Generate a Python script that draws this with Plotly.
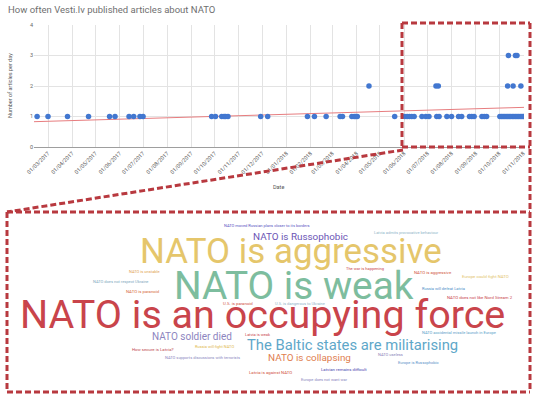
import plotly.graph_objects as go

# ---------------- data ----------------
dates_one = [
    "2017-02-15", "2017-03-01", "2017-03-26", "2017-04-22", "2017-05-19", "2017-05-26",
    "2017-06-13", "2017-06-19", "2017-06-27", "2017-07-01",
    "2017-09-27", "2017-10-02", "2017-10-10", "2017-10-13", "2017-10-15", "2017-10-18",
    "2017-11-29", "2017-12-08",
    "2018-01-28", "2018-02-06", "2018-02-21", "2018-03-11", "2018-03-14", "2018-03-26",
    "2018-03-29", "2018-03-31", "2018-04-02", "2018-05-20",
    "2018-06-02", "2018-06-05", "2018-06-08", "2018-06-11", "2018-06-14", "2018-06-24",
    "2018-06-29", "2018-07-03", "2018-07-13", "2018-07-16", "2018-07-26", "2018-08-01",
    "2018-08-10", "2018-08-14", "2018-08-24", "2018-08-27", "2018-08-30", "2018-09-09",
    "2018-09-12", "2018-09-15",
    "2018-10-02", "2018-10-04", "2018-10-06", "2018-10-08", "2018-10-10", "2018-10-12",
    "2018-10-14", "2018-10-16", "2018-10-18", "2018-10-20", "2018-10-22", "2018-10-24",
    "2018-10-26", "2018-10-28", "2018-10-30", "2018-11-01",
]
counts_one = [1] * len(dates_one)
dates_two = ["2018-04-17", "2018-07-12", "2018-07-15", "2018-10-12", "2018-10-19", "2018-10-29"]
counts_two = [2] * len(dates_two)
dates_three = ["2018-10-13", "2018-10-22", "2018-10-24"]
counts_three = [3] * len(dates_three)

trend_dates = ["2017-02-11", "2018-11-02"]
trend_values = [0.83, 1.30]

words = [
    "NATO is an occupying force", "NATO is weak", "NATO is aggressive",
    "The Baltic states are militarising", "NATO is Russophobic", "NATO soldier died",
    "NATO is collapsing",
    "NATO moved Russian plans closer to its borders", "Latvia admits provocative behaviour",
    "The war is happening", "NATO is aggressive", "Europe could fight NATO",
    "Russia will defeat Latvia", "NATO does not like Nord Stream 2",
    "NATO accidental missile launch in Europe", "NATO useless", "Europe is Russophobic",
    "Latvian remains difficult", "Europe does not want war", "Latvia is against NATO",
    "NATO supports discussions with terrorists", "How secure is Latvia?",
    "Russia will fight NATO", "Latvia is weak", "U.S. is paranoid",
    "U.S. is dangerous to Ukraine", "NATO is paranoid", "NATO does not respect Ukraine",
    "NATO is unstable",
]

# ---------------- layout of the word cloud (pixel centres, font size, colour) ----------------
word_layout = [
    (262, 315, 39.5, "#c9444b"),
    (294, 285, 38.8, "#7dbd9e"),
    (291, 251, 34.9, "#e5c66b"),
    (352, 345, 14.8, "#5ea7c9"),
    (300, 236, 9.9, "#6b55b5"),
    (192, 336, 10, "#8d85c0"),
    (309, 357, 9.9, "#e07e4f"),
    (267, 225, 4.0, "#5a53c2"),
    (406, 232, 4.0, "#8fb5c8"),
    (365, 268, 4.0, "#c9444b"),
    (433, 272, 4.3, "#d0553b"),
    (485, 276, 4.3, "#e3c46a"),
    (443, 289, 4.0, "#4a8fc8"),
    (480, 297, 4.3, "#c9444b"),
    (459, 333, 4.0, "#5aa0c8"),
    (390, 354, 4.0, "#8a7fb8"),
    (418, 362, 4.0, "#5a8fc8"),
    (344, 369, 4.3, "#4b3fae"),
    (324, 379, 4.0, "#8a86c0"),
    (270, 372, 4.3, "#d0503b"),
    (202, 357, 4.0, "#8a86c0"),
    (153, 349, 4.3, "#c04a50"),
    (214, 346, 4.0, "#e0b84a"),
    (258, 334, 4.0, "#c9444b"),
    (238, 303, 4.3, "#d05040"),
    (300, 303, 4.0, "#8fb4c8"),
    (143, 291, 4.3, "#d66a3a"),
    (120, 281, 4.0, "#7ea8be"),
    (144, 271, 4.0, "#e0a050"),
]

# plot area in pixels
L, R, T, B = 34, 524, 25, 147
W, H = 540, 398


def px(x):
    return (x - L) / (R - L)


def py(y):
    return (B - y) / (B - T)


fig = go.Figure()

fig.add_trace(go.Scatter(
    x=trend_dates, y=trend_values, mode="lines",
    line=dict(color="#e77d7f", width=1), hoverinfo="skip", showlegend=False,
))

marker = dict(color="#4277d0", size=5.5)
for xs, ys in [(dates_one, counts_one), (dates_two, counts_two), (dates_three, counts_three)]:
    fig.add_trace(go.Scatter(x=xs, y=ys, mode="markers", marker=marker, showlegend=False))

annotations = []
# title
annotations.append(dict(
    text="How often Vesti.lv published articles about NATO", x=px(6), y=py(9),
    xref="paper", yref="paper", xanchor="left", yanchor="middle", showarrow=False,
    font=dict(family="Roboto", size=9.5, color="#6f6f6f"),
))
# axis titles
annotations.append(dict(
    text="Date", x=px(278), y=py(187), xref="paper", yref="paper",
    xanchor="center", yanchor="middle", showarrow=False,
    font=dict(family="Roboto", size=5.5, color="#555555"),
))
annotations.append(dict(
    text="Number of articles per day", x=px(10), y=py(86), xref="paper", yref="paper",
    xanchor="center", yanchor="middle", showarrow=False, textangle=-90,
    font=dict(family="Roboto", size=5.5, color="#555555"),
))

for w, (cx, cy, fs, col) in zip(words, word_layout):
    annotations.append(dict(
        text=w, x=px(cx), y=py(cy), xref="paper", yref="paper",
        xanchor="center", yanchor="middle", showarrow=False,
        font=dict(family="Roboto", size=fs, color=col),
    ))

dash_line = dict(color="#b8393f", width=3, dash="6px,3px")
segments = [
    (402, 23, 530, 23),      # top rect top
    (402, 23, 402, 147),     # top rect left
    (402, 147, 530, 147),    # top rect bottom
    (530, 23, 530, 392),     # right edge (continuous)
    (403, 150, 7, 212),      # diagonal connector
    (7, 212, 530, 212),      # bottom rect top
    (7, 212, 7, 392),        # bottom rect left
    (7, 392, 530, 392),      # bottom rect bottom
]
shapes = [dict(type="line", xref="paper", yref="paper",
               x0=px(a), y0=py(b), x1=px(c), y1=py(d), line=dash_line)
          for a, b, c, d in segments]

fig.update_layout(
    width=W, height=H,
    margin=dict(l=L, r=W - R, t=T, b=H - B),
    paper_bgcolor="white", plot_bgcolor="white",
    font=dict(family="Roboto"),
    annotations=annotations, shapes=shapes,
    xaxis=dict(
        type="date", range=["2017-02-11", "2018-11-02"],
        tick0="2017-03-01", dtick="M1", tickformat="%d/%m/%Y", tickangle=-45,
        showgrid=True, gridcolor="#e3e3e3", gridwidth=1,
        showline=True, linecolor="#9e9e9e", linewidth=1,
        tickfont=dict(size=5.5, color="#666666"), ticks="", zeroline=False,
    ),
    yaxis=dict(
        range=[0, 4], dtick=1, showgrid=True, gridcolor="#e3e3e3", gridwidth=1,
        zeroline=False, tickfont=dict(size=5.5, color="#666666"), ticks="",
    ),
)

fig.write_html(
    "out.html",
    config={"displayModeBar": False},
    post_script="document.body.style.margin='0px';document.body.style.overflow='hidden';",
)
